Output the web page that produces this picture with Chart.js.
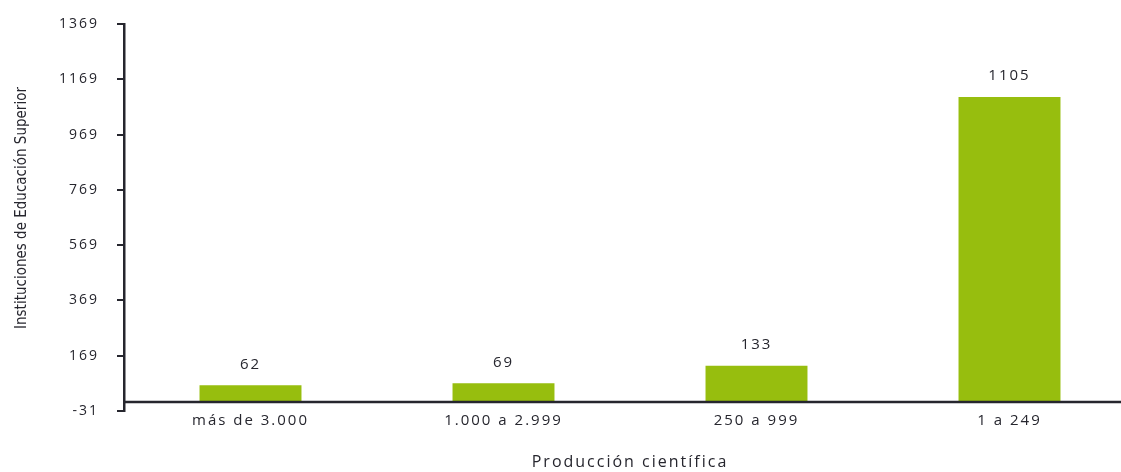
<!DOCTYPE html>
<html>
<head>
<meta charset="utf-8">
<script src="https://cdn.jsdelivr.net/npm/chart.js@4/dist/chart.umd.min.js"></script>
<style>
  html, body { margin: 0; padding: 0; background: #fff; overflow: hidden; }
  #grafico { display: block; }
</style>
</head>
<body>
<canvas id="grafico" width="1136" height="472"></canvas>
<script>
// datos
var categorias = ['más de 3.000', '1.000 a 2.999', '250 a 999', '1 a 249'];
var instituciones = [62, 69, 133, 1105];
var ticksY = [-31, 169, 369, 569, 769, 969, 1169, 1369];
var tituloY = 'Instituciones de Educación Superior';
var tituloX = 'Producción científica';

var verde = '#97be0e';
var tinta = '#26262e';
var espaciado = '2px';

// el texto del original va con letras algo separadas
var espacio = {
  id: 'espacio',
  beforeUpdate: function (chart) { chart.ctx.letterSpacing = espaciado; },
  beforeDraw: function (chart) { chart.ctx.letterSpacing = espaciado; }
};

// etiquetas encima de cada barra, linea base en cero y titulo vertical
var extras = {
  id: 'extras',
  afterDatasetsDraw: function (chart) {
    var ctx = chart.ctx;
    var y = chart.scales.y;
    var y0 = Math.round(y.getPixelForValue(0));
    ctx.save();
    ctx.strokeStyle = tinta;
    ctx.lineWidth = 2.5;
    ctx.beginPath();
    ctx.moveTo(chart.chartArea.left, y0);
    ctx.lineTo(chart.width, y0);
    ctx.stroke();

    ctx.fillStyle = tinta;
    ctx.font = '15px "Open Sans", sans-serif';
    ctx.textAlign = 'center';
    ctx.textBaseline = 'middle';
    var meta = chart.getDatasetMeta(0);
    meta.data.forEach(function (bar, i) {
      ctx.fillText(String(instituciones[i]), bar.x, bar.y - 21);
    });

    // titulo del eje y, letra estrecha sin espaciado
    ctx.letterSpacing = '0px';
    ctx.font = "15px 'Liberation Sans Narrow', 'DejaVu Sans Condensed', sans-serif";
    ctx.translate(22, 208);
    ctx.rotate(-Math.PI / 2);
    ctx.fillText(tituloY, 0, 0);
    ctx.restore();
  }
};

var ctx = document.getElementById('grafico').getContext('2d');
window.grafica = new Chart(ctx, {
  type: 'bar',
  data: {
    labels: categorias,
    datasets: [{
      label: 'Instituciones',
      data: instituciones,
      backgroundColor: verde,
      borderWidth: 0,
      categoryPercentage: 1,
      barPercentage: 0.403
    }]
  },
  options: {
    responsive: false,
    animation: false,
    layout: { padding: 0 },
    plugins: {
      legend: { display: false },
      tooltip: { enabled: false }
    },
    scales: {
      x: {
        afterFit: function (scale) {
          scale.height = 61;
        },
        grid: { display: false },
        border: { display: false },
        ticks: {
          color: tinta,
          padding: -7,
          font: { family: 'Open Sans', size: 15 }
        },
        title: {
          display: true,
          text: tituloX,
          color: tinta,
          padding: { top: 10, bottom: 0 },
          font: { family: 'Open Sans', size: 16 }
        }
      },
      y: {
        min: -31,
        max: 1369,
        afterBuildTicks: function (scale) {
          scale.ticks = ticksY.map(function (v) { return { value: v }; });
        },
        afterFit: function (scale) {
          scale.width = 124;
          scale.paddingTop = 24;
          scale.paddingBottom = 0;
        },
        grid: {
          drawOnChartArea: false,
          drawTicks: true,
          tickLength: 7,
          color: tinta,
          lineWidth: 2
        },
        border: { display: true, color: tinta, width: 2.5 },
        ticks: {
          color: tinta,
          padding: 18,
          font: { family: 'Open Sans', size: 14 },
          callback: function (v) { return String(v); }
        }
      }
    }
  },
  plugins: [espacio, extras]
});
</script>
</body>
</html>
